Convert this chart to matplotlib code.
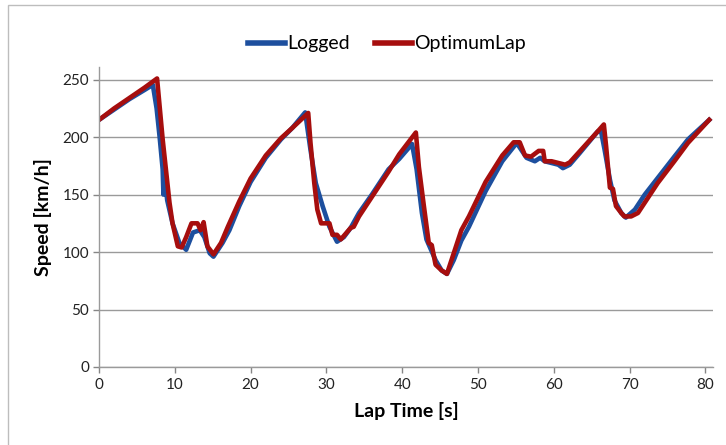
import matplotlib
matplotlib.use("Agg")
import matplotlib.pyplot as plt
from matplotlib.patches import Rectangle

# Logged lap data
logged_t = [0, 2, 4, 6, 7.1, 7.6, 8.0, 8.4, 8.5, 8.6, 9.0, 9.7, 10.6, 11.5, 12.4, 13.3, 13.9,
            14.6, 15.1, 16.3, 17.2, 18.5, 20, 22, 24, 25.5, 27.2, 27.9, 28.6, 29.5, 30.4,
            31.4, 32.3, 33.2, 34.3, 36, 38.2, 39.6, 41.3, 41.9, 42.6, 43.2, 44.4, 45.2,
            45.9, 46.8, 47.8, 48.8, 51, 53.2, 55, 55.3, 56.4, 57.5, 58.2, 58.8, 60.6,
            61.2, 62.1, 63.4, 65.8, 66.2, 66.7, 67.4, 68.0, 68.9, 69.5, 70.7, 72.0,
            73.3, 75.9, 77.7, 80.5]
logged_v = [215, 224, 233, 241, 245.5, 225, 200, 172, 150, 168, 145, 125, 108, 102, 117, 119, 113,
            99, 96, 108, 119, 140, 161, 182, 198, 208, 221.5, 189, 160, 140, 122,
            109, 113, 121, 134, 150, 172, 181, 194, 172, 134, 111, 93, 84,
            81, 93, 110, 122, 153, 179, 194, 193, 182, 179, 182, 179, 176,
            173, 176, 186, 205, 206, 189, 163, 145, 134, 130, 137, 150,
            161, 183, 198, 215]

# OptimumLap simulation
opt_t = [0, 2, 4, 6, 7.66, 8.4, 9.3, 9.7, 10.4, 10.9, 11.5, 12.2, 13.0, 13.4, 13.8, 14.3,
         15.1, 16.1, 17.0, 18.5, 20, 22, 24, 25.5, 27.6, 27.9, 28.4, 28.8, 29.3, 30.4,
         30.8, 31.4, 31.9, 33.2, 33.6, 34.3, 36, 38.2, 39.6, 41.8, 42.2, 42.8, 43.5,
         43.9, 44.4, 45.2, 45.9, 46.8, 47.8, 48.8, 51, 53.2, 54.7, 55.5, 56.2, 57.0,
         58.0, 58.6, 58.8, 59.7, 61.5, 62.1, 65.8, 66.6, 66.9, 67.4, 67.8, 68.2, 68.9,
         69.3, 70.2, 71.1, 72.0, 73.7, 75.9, 77.7, 80.5]
opt_v = [215, 225, 234, 243, 251, 198, 143, 125, 105, 104, 113, 125, 125, 119, 126, 105,
         98, 108, 122, 144, 164, 184, 199, 208, 221, 195, 160, 137, 125, 125,
         115, 115, 111, 121, 122, 131, 148, 170, 185, 204, 174, 143, 108,
         106, 89, 84, 81, 99, 119, 131, 161, 184, 195.5, 195.5, 184, 183,
         188, 188, 179, 179, 176, 178, 205, 211, 192, 156, 155, 140, 134,
         131, 131, 134, 143, 160, 179, 195, 215]

x_ticks = [0, 10, 20, 30, 40, 50, 60, 70, 80]
y_ticks = [0, 50, 100, 150, 200, 250]

plt.rcParams['font.family'] = ['Lato', 'DejaVu Sans']

W, H = 726, 445
fig = plt.figure(figsize=(W / 100, H / 100), dpi=100)
fig.patch.set_facecolor('white')

# chart-area border
fig.patches.append(Rectangle((8 / W, -0.1), 1.2, (H - 5) / H + 0.1,
                             transform=fig.transFigure, fill=False,
                             edgecolor='#BDBDBD', linewidth=1.0))

ax = fig.add_axes([99 / W, (H - 367) / H, (713 - 99) / W, (367 - 67) / H])

blue = '#1D4F9E'
red = '#A60E0E'
ax.plot(logged_t, logged_v, color=blue, lw=3.3, label='Logged', solid_joinstyle='round')
ax.plot(opt_t, opt_v, color=red, lw=3.3, label='OptimumLap', solid_joinstyle='round')

ax.set_xlim(0, 81)
ax.set_ylim(0, 261)
ax.set_xticks(x_ticks)
ax.set_yticks(y_ticks)
ax.tick_params(axis='both', labelsize=11, colors='#868686', labelcolor='#222222',
               length=4, width=1, direction='out')
ax.tick_params(axis='y', pad=3)
ax.tick_params(axis='x', pad=4)

ax.grid(axis='y', color='#9A9A9A', lw=1.0)
ax.set_axisbelow(True)
for s in ['top', 'right']:
    ax.spines[s].set_visible(False)
for s in ['left', 'bottom']:
    ax.spines[s].set_color('#9A9A9A')
    ax.spines[s].set_linewidth(1.0)

ax.set_xlabel('Lap Time [s]', fontsize=14, fontweight='bold', labelpad=7)
ax.set_ylabel('Speed [km/h]', fontsize=14, fontweight='bold', labelpad=8)

leg = fig.legend(loc='center', bbox_to_anchor=(387 / W, 1 - 44 / H), ncol=2,
                 frameon=False, fontsize=14, handlelength=1.9, handletextpad=0.1,
                 columnspacing=1.3)
for line in leg.get_lines():
    line.set_linewidth(4)

fig.savefig('out.png', dpi=100)
